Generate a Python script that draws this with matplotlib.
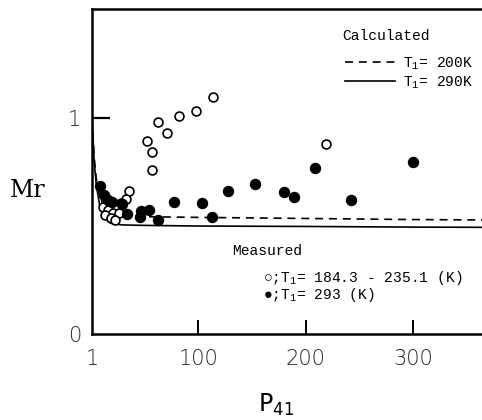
import matplotlib
matplotlib.use('Agg')
import matplotlib.pyplot as plt

plt.rcParams['mathtext.fontset'] = 'custom'
plt.rcParams['mathtext.rm'] = 'Liberation Mono'
plt.rcParams['mathtext.sf'] = 'DejaVu Sans'

# calculated curves (P41 vs Mr)
calc_x = [1, 3, 5, 8, 12, 16, 20, 30, 50, 100, 200, 300, 364]
calc_200K = [1.0, 0.82, 0.72, 0.64, 0.59, 0.565, 0.555, 0.548, 0.543, 0.54, 0.535, 0.53, 0.528]
calc_290K = [1.0, 0.80, 0.69, 0.60, 0.545, 0.52, 0.51, 0.505, 0.503, 0.50, 0.498, 0.495, 0.494]

# measured, T1 = 184.3 - 235.1 K (open)
open_x = [113.6, 97.7, 81.9, 62.4, 70.8, 52.2, 56.8, 56.8, 218.7,
          35.4, 32.6, 28.0, 11.2, 15.9, 20.5, 26.0, 13.0, 18.7, 22.4]
open_y = [1.097, 1.032, 1.009, 0.981, 0.931, 0.894, 0.843, 0.759, 0.880,
          0.662, 0.625, 0.606, 0.588, 0.574, 0.560, 0.560, 0.551, 0.537, 0.528]

# measured, T1 = 293 K (filled)
fill_x = [8.4, 12.2, 15.9, 19.6, 28.9, 33.6, 46.6, 54.0, 45.7, 62.4, 77.3,
          103.3, 112.6, 127.5, 152.6, 179.6, 188.9, 208.4, 241.9, 299.6]
fill_y = [0.685, 0.644, 0.620, 0.611, 0.602, 0.556, 0.569, 0.574, 0.542, 0.528, 0.611,
          0.606, 0.542, 0.662, 0.694, 0.657, 0.634, 0.769, 0.620, 0.796]

xticks = [1, 100, 200, 300]
xtick_labels = ['1', '100', '200', '300']
yticks = [0, 1]
ytick_labels = ['0', '1']

mono = ['Liberation Mono', 'DejaVu Sans Mono']

fig = plt.figure(figsize=(4.82, 4.2), dpi=100)
ax = fig.add_axes([92/482, 1-334/420, 390/482, 325/420])

l1, = ax.plot(calc_x, calc_200K, color='black', lw=1.2, dashes=(4.8, 3.5))
l2, = ax.plot(calc_x, calc_290K, color='black', lw=1.2)
ax.plot(open_x, open_y, 'o', mfc='white', mec='black', mew=1.2, ms=6.4, zorder=3)
ax.plot(fill_x, fill_y, 'o', color='black', ms=7.2, zorder=4)

ax.set_xlim(1, 364)
ax.set_ylim(0, 1.505)
ax.set_xticks(xticks, xtick_labels)
ax.set_yticks(yticks, ytick_labels)
ax.tick_params(axis='x', length=0, pad=11, labelsize=15)
ax.tick_params(axis='y', length=0, pad=8, labelsize=15)
for t in ax.get_xticklabels() + ax.get_yticklabels():
    t.set_fontweight('light')
    t.set_color('#222222')

# inward tick marks, drawn as short segments
ax.vlines(xticks[1:], 0, 14/325, transform=ax.get_xaxis_transform(),
          color='black', lw=1.4, clip_on=False)
ax.hlines(yticks[1:], 0, 18/390, transform=ax.get_yaxis_transform(),
          color='black', lw=1.6, clip_on=False)

ax.spines['right'].set_visible(False)
for s in ['left', 'top', 'bottom']:
    ax.spines[s].set_linewidth(1.8)

ax.set_ylabel('Mr', family='DejaVu Serif', fontsize=17, rotation=0, va='center', ha='center')
ax.yaxis.set_label_coords(-0.164, 0.443)
ax.set_xlabel(r'$\mathsf{P}_{\mathsf{41}}$', fontsize=17, va='center')
ax.xaxis.set_label_coords(0.472, -0.218)

ax.text((342-92)/390, (334-36)/325, 'Calculated', transform=ax.transAxes,
        family=mono, fontsize=10.5, va='center', ha='left')
leg = ax.legend([l1, l2], ['T$_1$= 200K', 'T$_1$= 290K'],
                loc='upper left', bbox_to_anchor=((345-92)/390, 1-46/325),
                frameon=False, prop={'family': mono, 'size': 10.5},
                handlelength=3.4, handletextpad=0.55,
                borderpad=0, borderaxespad=0, labelspacing=0.15)

ax.text((232-92)/390, (334-251)/325, 'Measured', transform=ax.transAxes,
        family=mono, fontsize=10.5, va='center', ha='left')
ax.text((263-92)/390, (334-278)/325, '\u25cb;T$_1$= 184.3 - 235.1 (K)', transform=ax.transAxes,
        family=mono, fontsize=10.5, va='center', ha='left')
ax.text((263-92)/390, (334-295)/325, '\u25cf;T$_1$= 293 (K)', transform=ax.transAxes,
        family=mono, fontsize=10.5, va='center', ha='left')

fig.savefig('out.png', dpi=100)
